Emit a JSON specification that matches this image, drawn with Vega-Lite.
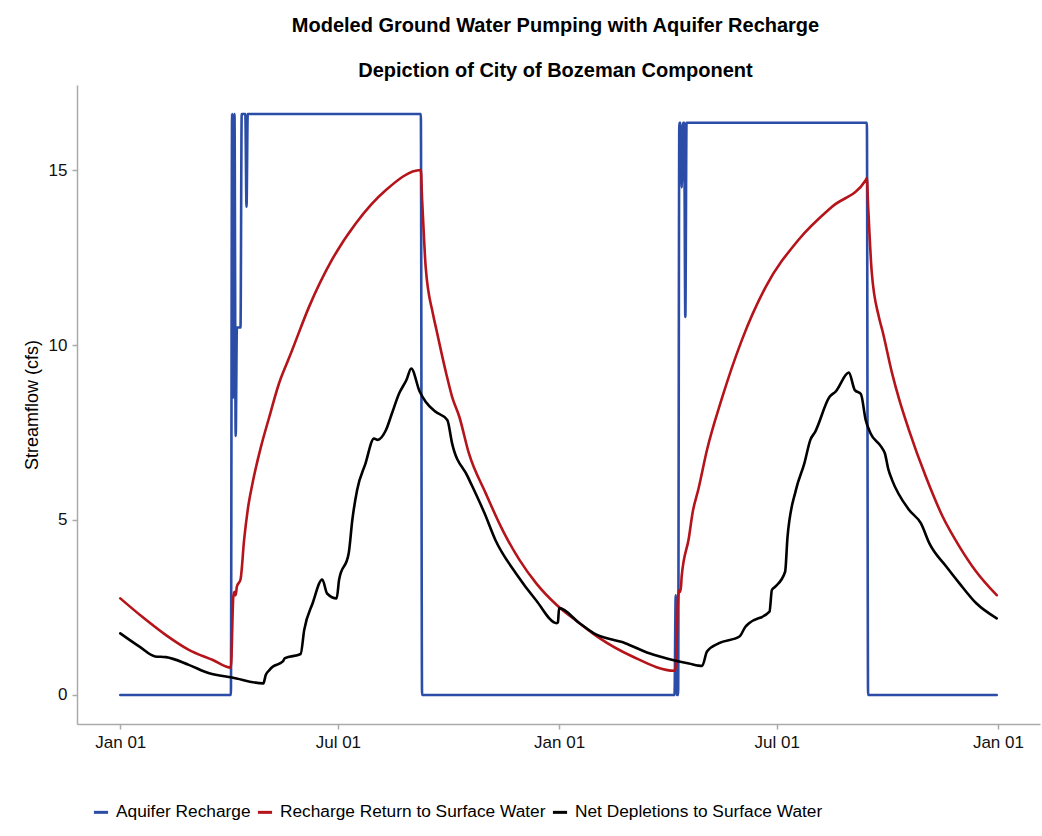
{
  "$schema": "https://vega.github.io/schema/vega-lite/v6.json",
  "width": 963,
  "height": 639,
  "autosize": {"type": "none"},
  "padding": {"left": 77, "top": 85, "right": 2, "bottom": 112},
  "background": "white",
  "title": {
    "text": ["Modeled Ground Water Pumping with Aquifer Recharge", "\u00a0\u00a0\u00a0\u00a0\u00a0Depiction of City of Bozeman Component"],
    "font": "Liberation Sans",
    "fontSize": 20,
    "fontWeight": "bold",
    "color": "#000000",
    "lineHeight": 45,
    "anchor": "middle",
    "offset": 4,
    "dx": -3
  },
  "data": {
    "values": [
      {"date": "2001-01-01T00:00", "series": "Aquifer Recharge", "value": 0},
      {"date": "2001-04-03T00:00", "series": "Aquifer Recharge", "value": 0},
      {"date": "2001-04-04T00:00", "series": "Aquifer Recharge", "value": 16.6},
      {"date": "2001-04-05T00:00", "series": "Aquifer Recharge", "value": 8.5},
      {"date": "2001-04-06T00:00", "series": "Aquifer Recharge", "value": 16.6},
      {"date": "2001-04-07T00:00", "series": "Aquifer Recharge", "value": 7.4},
      {"date": "2001-04-08T00:00", "series": "Aquifer Recharge", "value": 10.5},
      {"date": "2001-04-11T00:00", "series": "Aquifer Recharge", "value": 10.5},
      {"date": "2001-04-12T00:00", "series": "Aquifer Recharge", "value": 16.6},
      {"date": "2001-04-15T00:00", "series": "Aquifer Recharge", "value": 16.6},
      {"date": "2001-04-16T00:00", "series": "Aquifer Recharge", "value": 13.95},
      {"date": "2001-04-17T00:00", "series": "Aquifer Recharge", "value": 16.6},
      {"date": "2001-09-08T00:00", "series": "Aquifer Recharge", "value": 16.6},
      {"date": "2001-09-09T00:00", "series": "Aquifer Recharge", "value": 0},
      {"date": "2002-04-07T00:00", "series": "Aquifer Recharge", "value": 0},
      {"date": "2002-04-08T00:00", "series": "Aquifer Recharge", "value": 2.85},
      {"date": "2002-04-09T00:00", "series": "Aquifer Recharge", "value": 0},
      {"date": "2002-04-10T00:00", "series": "Aquifer Recharge", "value": 0},
      {"date": "2002-04-11T00:00", "series": "Aquifer Recharge", "value": 16.35},
      {"date": "2002-04-12T00:00", "series": "Aquifer Recharge", "value": 16.35},
      {"date": "2002-04-13T00:00", "series": "Aquifer Recharge", "value": 14.5},
      {"date": "2002-04-14T00:00", "series": "Aquifer Recharge", "value": 16.35},
      {"date": "2002-04-15T00:00", "series": "Aquifer Recharge", "value": 16.35},
      {"date": "2002-04-16T00:00", "series": "Aquifer Recharge", "value": 10.8},
      {"date": "2002-04-17T00:00", "series": "Aquifer Recharge", "value": 16.35},
      {"date": "2002-09-14T00:00", "series": "Aquifer Recharge", "value": 16.35},
      {"date": "2002-09-15T00:00", "series": "Aquifer Recharge", "value": 0},
      {"date": "2002-12-31T00:00", "series": "Aquifer Recharge", "value": 0},

      {"date": "2001-01-01T00:00", "series": "Recharge Return to Surface Water", "value": 2.76},
      {"date": "2001-01-19T00:00", "series": "Recharge Return to Surface Water", "value": 2.24},
      {"date": "2001-02-08T00:00", "series": "Recharge Return to Surface Water", "value": 1.71},
      {"date": "2001-02-27T00:00", "series": "Recharge Return to Surface Water", "value": 1.29},
      {"date": "2001-03-19T00:00", "series": "Recharge Return to Surface Water", "value": 1.0},
      {"date": "2001-04-03T00:00", "series": "Recharge Return to Surface Water", "value": 0.78},
      {"date": "2001-04-05T00:00", "series": "Recharge Return to Surface Water", "value": 2.8},
      {"date": "2001-04-06T00:00", "series": "Recharge Return to Surface Water", "value": 2.95},
      {"date": "2001-04-07T00:00", "series": "Recharge Return to Surface Water", "value": 2.85},
      {"date": "2001-04-08T00:00", "series": "Recharge Return to Surface Water", "value": 3.1},
      {"date": "2001-04-11T00:00", "series": "Recharge Return to Surface Water", "value": 3.3},
      {"date": "2001-04-14T00:00", "series": "Recharge Return to Surface Water", "value": 4.43},
      {"date": "2001-04-17T00:00", "series": "Recharge Return to Surface Water", "value": 5.29},
      {"date": "2001-04-21T00:00", "series": "Recharge Return to Surface Water", "value": 6.05},
      {"date": "2001-04-28T00:00", "series": "Recharge Return to Surface Water", "value": 7.09},
      {"date": "2001-05-05T00:00", "series": "Recharge Return to Surface Water", "value": 7.95},
      {"date": "2001-05-13T00:00", "series": "Recharge Return to Surface Water", "value": 8.9},
      {"date": "2001-05-21T00:00", "series": "Recharge Return to Surface Water", "value": 9.6},
      {"date": "2001-05-24T00:00", "series": "Recharge Return to Surface Water", "value": 9.86},
      {"date": "2001-06-07T00:00", "series": "Recharge Return to Surface Water", "value": 11.09},
      {"date": "2001-06-26T00:00", "series": "Recharge Return to Surface Water", "value": 12.43},
      {"date": "2001-07-16T00:00", "series": "Recharge Return to Surface Water", "value": 13.48},
      {"date": "2001-08-10T00:00", "series": "Recharge Return to Surface Water", "value": 14.43},
      {"date": "2001-09-08T00:00", "series": "Recharge Return to Surface Water", "value": 15.0},
      {"date": "2001-09-09T00:00", "series": "Recharge Return to Surface Water", "value": 14.2},
      {"date": "2001-09-10T00:00", "series": "Recharge Return to Surface Water", "value": 13.5},
      {"date": "2001-09-12T00:00", "series": "Recharge Return to Surface Water", "value": 12.24},
      {"date": "2001-09-18T00:00", "series": "Recharge Return to Surface Water", "value": 10.9},
      {"date": "2001-09-21T00:00", "series": "Recharge Return to Surface Water", "value": 10.43},
      {"date": "2001-09-29T00:00", "series": "Recharge Return to Surface Water", "value": 9.2},
      {"date": "2001-10-04T00:00", "series": "Recharge Return to Surface Water", "value": 8.52},
      {"date": "2001-10-10T00:00", "series": "Recharge Return to Surface Water", "value": 7.95},
      {"date": "2001-10-18T00:00", "series": "Recharge Return to Surface Water", "value": 6.9},
      {"date": "2001-11-01T00:00", "series": "Recharge Return to Surface Water", "value": 5.76},
      {"date": "2001-11-15T00:00", "series": "Recharge Return to Surface Water", "value": 4.71},
      {"date": "2001-11-29T00:00", "series": "Recharge Return to Surface Water", "value": 3.86},
      {"date": "2001-12-13T00:00", "series": "Recharge Return to Surface Water", "value": 3.19},
      {"date": "2001-12-30T00:00", "series": "Recharge Return to Surface Water", "value": 2.57},
      {"date": "2002-01-18T00:00", "series": "Recharge Return to Surface Water", "value": 2.05},
      {"date": "2002-01-29T00:00", "series": "Recharge Return to Surface Water", "value": 1.76},
      {"date": "2002-02-03T00:00", "series": "Recharge Return to Surface Water", "value": 1.64},
      {"date": "2002-03-03T00:00", "series": "Recharge Return to Surface Water", "value": 1.1},
      {"date": "2002-04-07T00:00", "series": "Recharge Return to Surface Water", "value": 0.69},
      {"date": "2002-04-08T00:00", "series": "Recharge Return to Surface Water", "value": 0.8},
      {"date": "2002-04-10T00:00", "series": "Recharge Return to Surface Water", "value": 2.8},
      {"date": "2002-04-11T00:00", "series": "Recharge Return to Surface Water", "value": 3.0},
      {"date": "2002-04-12T00:00", "series": "Recharge Return to Surface Water", "value": 2.95},
      {"date": "2002-04-13T00:00", "series": "Recharge Return to Surface Water", "value": 3.4},
      {"date": "2002-04-19T00:00", "series": "Recharge Return to Surface Water", "value": 4.5},
      {"date": "2002-04-22T00:00", "series": "Recharge Return to Surface Water", "value": 5.2},
      {"date": "2002-04-27T00:00", "series": "Recharge Return to Surface Water", "value": 5.9},
      {"date": "2002-05-04T00:00", "series": "Recharge Return to Surface Water", "value": 7.0},
      {"date": "2002-05-16T00:00", "series": "Recharge Return to Surface Water", "value": 8.43},
      {"date": "2002-06-02T00:00", "series": "Recharge Return to Surface Water", "value": 10.14},
      {"date": "2002-06-22T00:00", "series": "Recharge Return to Surface Water", "value": 11.67},
      {"date": "2002-07-19T00:00", "series": "Recharge Return to Surface Water", "value": 13.0},
      {"date": "2002-08-16T00:00", "series": "Recharge Return to Surface Water", "value": 13.95},
      {"date": "2002-09-13T00:00", "series": "Recharge Return to Surface Water", "value": 14.71},
      {"date": "2002-09-14T00:00", "series": "Recharge Return to Surface Water", "value": 14.77},
      {"date": "2002-09-15T00:00", "series": "Recharge Return to Surface Water", "value": 14.0},
      {"date": "2002-09-16T00:00", "series": "Recharge Return to Surface Water", "value": 13.3},
      {"date": "2002-09-18T00:00", "series": "Recharge Return to Surface Water", "value": 12.1},
      {"date": "2002-09-24T00:00", "series": "Recharge Return to Surface Water", "value": 10.8},
      {"date": "2002-09-27T00:00", "series": "Recharge Return to Surface Water", "value": 10.4},
      {"date": "2002-10-05T00:00", "series": "Recharge Return to Surface Water", "value": 9.19},
      {"date": "2002-10-11T00:00", "series": "Recharge Return to Surface Water", "value": 8.43},
      {"date": "2002-10-19T00:00", "series": "Recharge Return to Surface Water", "value": 7.57},
      {"date": "2002-11-02T00:00", "series": "Recharge Return to Surface Water", "value": 6.24},
      {"date": "2002-11-16T00:00", "series": "Recharge Return to Surface Water", "value": 5.1},
      {"date": "2002-11-30T00:00", "series": "Recharge Return to Surface Water", "value": 4.24},
      {"date": "2002-12-14T00:00", "series": "Recharge Return to Surface Water", "value": 3.52},
      {"date": "2002-12-31T00:00", "series": "Recharge Return to Surface Water", "value": 2.85},

      {"date": "2001-01-01T00:00", "series": "Net Depletions to Surface Water", "value": 1.76},
      {"date": "2001-01-17T00:00", "series": "Net Depletions to Surface Water", "value": 1.38},
      {"date": "2001-01-30T00:00", "series": "Net Depletions to Surface Water", "value": 1.1},
      {"date": "2001-02-08T00:00", "series": "Net Depletions to Surface Water", "value": 1.08},
      {"date": "2001-02-27T00:00", "series": "Net Depletions to Surface Water", "value": 0.86},
      {"date": "2001-03-16T00:00", "series": "Net Depletions to Surface Water", "value": 0.62},
      {"date": "2001-04-04T00:00", "series": "Net Depletions to Surface Water", "value": 0.5},
      {"date": "2001-04-30T00:00", "series": "Net Depletions to Surface Water", "value": 0.33},
      {"date": "2001-05-02T00:00", "series": "Net Depletions to Surface Water", "value": 0.57},
      {"date": "2001-05-05T00:00", "series": "Net Depletions to Surface Water", "value": 0.71},
      {"date": "2001-05-08T00:00", "series": "Net Depletions to Surface Water", "value": 0.81},
      {"date": "2001-05-16T00:00", "series": "Net Depletions to Surface Water", "value": 0.95},
      {"date": "2001-05-18T00:00", "series": "Net Depletions to Surface Water", "value": 1.05},
      {"date": "2001-05-31T00:00", "series": "Net Depletions to Surface Water", "value": 1.17},
      {"date": "2001-06-03T00:00", "series": "Net Depletions to Surface Water", "value": 1.86},
      {"date": "2001-06-10T00:00", "series": "Net Depletions to Surface Water", "value": 2.62},
      {"date": "2001-06-18T00:00", "series": "Net Depletions to Surface Water", "value": 3.3},
      {"date": "2001-06-22T00:00", "series": "Net Depletions to Surface Water", "value": 2.9},
      {"date": "2001-06-30T00:00", "series": "Net Depletions to Surface Water", "value": 2.76},
      {"date": "2001-07-02T00:00", "series": "Net Depletions to Surface Water", "value": 3.29},
      {"date": "2001-07-10T00:00", "series": "Net Depletions to Surface Water", "value": 4.05},
      {"date": "2001-07-13T00:00", "series": "Net Depletions to Surface Water", "value": 5.0},
      {"date": "2001-07-17T00:00", "series": "Net Depletions to Surface Water", "value": 5.86},
      {"date": "2001-07-24T00:00", "series": "Net Depletions to Surface Water", "value": 6.62},
      {"date": "2001-07-31T00:00", "series": "Net Depletions to Surface Water", "value": 7.33},
      {"date": "2001-08-03T00:00", "series": "Net Depletions to Surface Water", "value": 7.29},
      {"date": "2001-08-10T00:00", "series": "Net Depletions to Surface Water", "value": 7.57},
      {"date": "2001-08-15T00:00", "series": "Net Depletions to Surface Water", "value": 8.05},
      {"date": "2001-08-21T00:00", "series": "Net Depletions to Surface Water", "value": 8.62},
      {"date": "2001-08-27T00:00", "series": "Net Depletions to Surface Water", "value": 9.0},
      {"date": "2001-08-31T00:00", "series": "Net Depletions to Surface Water", "value": 9.33},
      {"date": "2001-09-07T00:00", "series": "Net Depletions to Surface Water", "value": 8.67},
      {"date": "2001-09-12T00:00", "series": "Net Depletions to Surface Water", "value": 8.38},
      {"date": "2001-09-20T00:00", "series": "Net Depletions to Surface Water", "value": 8.1},
      {"date": "2001-09-30T00:00", "series": "Net Depletions to Surface Water", "value": 7.86},
      {"date": "2001-10-04T00:00", "series": "Net Depletions to Surface Water", "value": 7.19},
      {"date": "2001-10-17T00:00", "series": "Net Depletions to Surface Water", "value": 6.24},
      {"date": "2001-10-31T00:00", "series": "Net Depletions to Surface Water", "value": 5.19},
      {"date": "2001-11-09T00:00", "series": "Net Depletions to Surface Water", "value": 4.43},
      {"date": "2001-11-26T00:00", "series": "Net Depletions to Surface Water", "value": 3.48},
      {"date": "2001-12-13T00:00", "series": "Net Depletions to Surface Water", "value": 2.7},
      {"date": "2001-12-30T00:00", "series": "Net Depletions to Surface Water", "value": 2.05},
      {"date": "2001-12-31T00:00", "series": "Net Depletions to Surface Water", "value": 2.07},
      {"date": "2002-01-01T00:00", "series": "Net Depletions to Surface Water", "value": 2.48},
      {"date": "2002-01-18T00:00", "series": "Net Depletions to Surface Water", "value": 2.05},
      {"date": "2002-01-30T00:00", "series": "Net Depletions to Surface Water", "value": 1.76},
      {"date": "2002-02-25T00:00", "series": "Net Depletions to Surface Water", "value": 1.48},
      {"date": "2002-03-17T00:00", "series": "Net Depletions to Surface Water", "value": 1.19},
      {"date": "2002-04-08T00:00", "series": "Net Depletions to Surface Water", "value": 0.98},
      {"date": "2002-04-19T00:00", "series": "Net Depletions to Surface Water", "value": 0.9},
      {"date": "2002-04-30T00:00", "series": "Net Depletions to Surface Water", "value": 0.83},
      {"date": "2002-05-04T00:00", "series": "Net Depletions to Surface Water", "value": 1.24},
      {"date": "2002-05-14T00:00", "series": "Net Depletions to Surface Water", "value": 1.48},
      {"date": "2002-05-31T00:00", "series": "Net Depletions to Surface Water", "value": 1.67},
      {"date": "2002-06-05T00:00", "series": "Net Depletions to Surface Water", "value": 1.95},
      {"date": "2002-06-08T00:00", "series": "Net Depletions to Surface Water", "value": 2.05},
      {"date": "2002-06-25T00:00", "series": "Net Depletions to Surface Water", "value": 2.38},
      {"date": "2002-06-27T00:00", "series": "Net Depletions to Surface Water", "value": 3.0},
      {"date": "2002-06-30T00:00", "series": "Net Depletions to Surface Water", "value": 3.1},
      {"date": "2002-07-08T00:00", "series": "Net Depletions to Surface Water", "value": 3.52},
      {"date": "2002-07-10T00:00", "series": "Net Depletions to Surface Water", "value": 4.52},
      {"date": "2002-07-17T00:00", "series": "Net Depletions to Surface Water", "value": 5.86},
      {"date": "2002-07-24T00:00", "series": "Net Depletions to Surface Water", "value": 6.62},
      {"date": "2002-07-29T00:00", "series": "Net Depletions to Surface Water", "value": 7.29},
      {"date": "2002-08-02T00:00", "series": "Net Depletions to Surface Water", "value": 7.52},
      {"date": "2002-08-14T00:00", "series": "Net Depletions to Surface Water", "value": 8.52},
      {"date": "2002-08-19T00:00", "series": "Net Depletions to Surface Water", "value": 8.67},
      {"date": "2002-08-30T00:00", "series": "Net Depletions to Surface Water", "value": 9.21},
      {"date": "2002-09-04T00:00", "series": "Net Depletions to Surface Water", "value": 8.71},
      {"date": "2002-09-09T00:00", "series": "Net Depletions to Surface Water", "value": 8.6},
      {"date": "2002-09-13T00:00", "series": "Net Depletions to Surface Water", "value": 7.86},
      {"date": "2002-09-17T00:00", "series": "Net Depletions to Surface Water", "value": 7.48},
      {"date": "2002-09-26T00:00", "series": "Net Depletions to Surface Water", "value": 7.09},
      {"date": "2002-09-29T00:00", "series": "Net Depletions to Surface Water", "value": 6.9},
      {"date": "2002-10-02T00:00", "series": "Net Depletions to Surface Water", "value": 6.43},
      {"date": "2002-10-05T00:00", "series": "Net Depletions to Surface Water", "value": 6.14},
      {"date": "2002-10-19T00:00", "series": "Net Depletions to Surface Water", "value": 5.29},
      {"date": "2002-10-29T00:00", "series": "Net Depletions to Surface Water", "value": 4.9},
      {"date": "2002-11-05T00:00", "series": "Net Depletions to Surface Water", "value": 4.33},
      {"date": "2002-11-19T00:00", "series": "Net Depletions to Surface Water", "value": 3.67},
      {"date": "2002-11-30T00:00", "series": "Net Depletions to Surface Water", "value": 3.19},
      {"date": "2002-12-14T00:00", "series": "Net Depletions to Surface Water", "value": 2.62},
      {"date": "2002-12-31T00:00", "series": "Net Depletions to Surface Water", "value": 2.19}
    ]
  },
  "mark": {"type": "line", "strokeWidth": 2.6, "strokeJoin": "round", "strokeCap": "round", "interpolate": "monotone"},
  "encoding": {
    "x": {
      "field": "date",
      "type": "temporal",
      "title": null,
      "scale": {"domain": ["2000-11-26T00:00", "2003-02-05T00:00"], "nice": false},
      "axis": {
        "values": [
          {"year": 2001, "month": 1, "date": 1},
          {"year": 2001, "month": 7, "date": 1},
          {"year": 2002, "month": 1, "date": 1},
          {"year": 2002, "month": 7, "date": 1},
          {"year": 2003, "month": 1, "date": 1}
        ],
        "format": "%b %d",
        "grid": false,
        "labelFont": "Liberation Sans",
        "labelFontSize": 17,
        "labelColor": "#111111",
        "labelPadding": 5,
        "tickSize": 5,
        "tickColor": "#aaaaaa",
        "tickWidth": 1.5,
        "domainColor": "#aaaaaa",
        "domainWidth": 1.5,
        "labelFlush": false,
        "labelOverlap": false
      }
    },
    "y": {
      "field": "value",
      "type": "quantitative",
      "title": "Streamflow (cfs)",
      "scale": {"domain": [-0.83, 17.43], "nice": false, "zero": false},
      "axis": {
        "values": [0, 5, 10, 15],
        "grid": false,
        "labelFont": "Liberation Sans",
        "labelFontSize": 17,
        "labelColor": "#111111",
        "labelPadding": 5,
        "tickSize": 5,
        "tickColor": "#aaaaaa",
        "tickWidth": 1.5,
        "domainColor": "#aaaaaa",
        "domainWidth": 1.5,
        "titleFont": "Liberation Sans",
        "titleFontSize": 18,
        "titleFontWeight": "normal",
        "titleColor": "#000000",
        "titlePadding": 7
      }
    },
    "color": {
      "field": "series",
      "type": "nominal",
      "sort": ["Aquifer Recharge", "Recharge Return to Surface Water", "Net Depletions to Surface Water"],
      "scale": {
        "domain": ["Aquifer Recharge", "Recharge Return to Surface Water", "Net Depletions to Surface Water"],
        "range": ["#2B4DA8", "#B5141B", "#000000"]
      },
      "legend": {
        "title": null,
        "orient": "bottom",
        "direction": "horizontal",
        "symbolType": "stroke",
        "symbolStrokeWidth": 3,
        "symbolSize": 200,
        "labelFont": "Liberation Sans",
        "labelFontSize": 17.3,
        "labelColor": "#000000",
        "labelLimit": 500,
        "labelOffset": 6,
        "columnPadding": 0,
        "padding": 15,
        "offset": 38
      }
    }
  },
  "config": {
    "view": {"stroke": null}
  }
}
